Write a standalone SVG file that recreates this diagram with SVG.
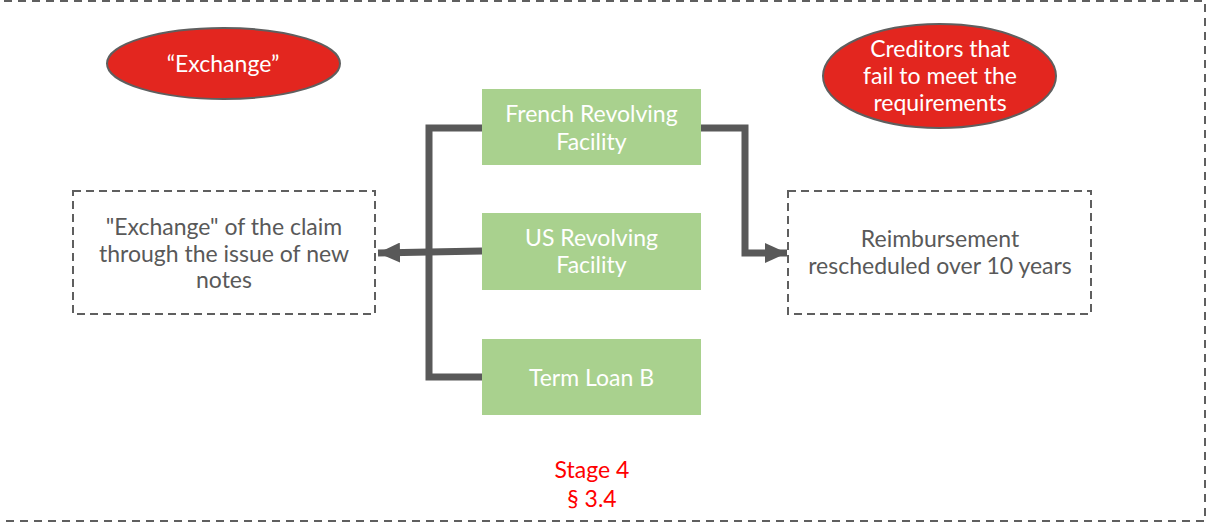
<svg xmlns="http://www.w3.org/2000/svg" width="1213" height="523" viewBox="0 0 1213 523">
  <style>
    .frame { fill: none; stroke: #5f5f5f; stroke-width: 2; stroke-dasharray: 8 6; }
    .note { fill: #ffffff; stroke: #5f5f5f; stroke-width: 2; stroke-dasharray: 8 5; }
    .tag { fill: #e3261f; stroke: #5f5f5f; stroke-width: 2; }
    .loan { fill: #a9d18e; }
    .wire { fill: none; stroke: #595959; stroke-width: 7; }
    text { font-family: Lato, "Noto Sans", "Liberation Sans", sans-serif; font-size: 23px; text-anchor: middle; }
    .light { fill: #ffffff; }
    .dark { fill: #595959; }
    .stage { fill: #ff0000; }
  </style>
  <defs>
    <marker id="arrow" viewBox="0 0 22 20" refX="22" refY="10" markerWidth="22" markerHeight="20" markerUnits="userSpaceOnUse" orient="auto">
      <path d="M0,0 L22,10 L0,20 Z" fill="#595959"/>
    </marker>
  </defs>

  <!-- outer dashed frame -->
  <rect class="frame" x="-10" y="1" width="1215" height="520"/>

  <!-- connectors -->
  <g id="connectors">
    <path class="wire" d="M482,128 H429 V377 H482"/>
    <path class="wire" d="M482,251 L429,252 L378,253" marker-end="url(#arrow)"/>
    <path class="wire" d="M701,128 H745 V253 H787" marker-end="url(#arrow)"/>
  </g>

  <g id="tag-exchange">
    <ellipse class="tag" cx="223.5" cy="63.5" rx="116.5" ry="35.5"/>
    <text class="light" x="223" y="72">“Exchange”</text>
  </g>

  <g id="tag-creditors">
    <ellipse class="tag" cx="939.5" cy="76" rx="116.5" ry="52"/>
    <text class="light" x="940" y="57">Creditors that</text>
    <text class="light" x="940" y="84">fail to meet the</text>
    <text class="light" x="940" y="111">requirements</text>
  </g>

  <g id="french-rcf">
    <rect class="loan" x="482" y="89" width="219" height="76"/>
    <text class="light" x="591.5" y="122">French Revolving</text>
    <text class="light" x="591.5" y="150">Facility</text>
  </g>

  <g id="us-rcf">
    <rect class="loan" x="482" y="213" width="219" height="77"/>
    <text class="light" x="591.5" y="246">US Revolving</text>
    <text class="light" x="591.5" y="273">Facility</text>
  </g>

  <g id="term-loan-b">
    <rect class="loan" x="482" y="339" width="219" height="76"/>
    <text class="light" x="591.5" y="386">Term Loan B</text>
  </g>

  <g id="exchange-notes">
    <rect class="note" x="73" y="191" width="302" height="123"/>
    <text class="dark" x="224" y="235">"Exchange" of the claim</text>
    <text class="dark" x="224" y="262">through the issue of new</text>
    <text class="dark" x="224" y="288">notes</text>
  </g>

  <g id="reimbursement">
    <rect class="note" x="788" y="191" width="303" height="123"/>
    <text class="dark" x="940" y="247">Reimbursement</text>
    <text class="dark" x="940" y="274">rescheduled over 10 years</text>
  </g>

  <g id="stage-label">
    <text class="stage" x="592" y="478">Stage 4</text>
    <text class="stage" x="592" y="507">§ 3.4</text>
  </g>
</svg>
